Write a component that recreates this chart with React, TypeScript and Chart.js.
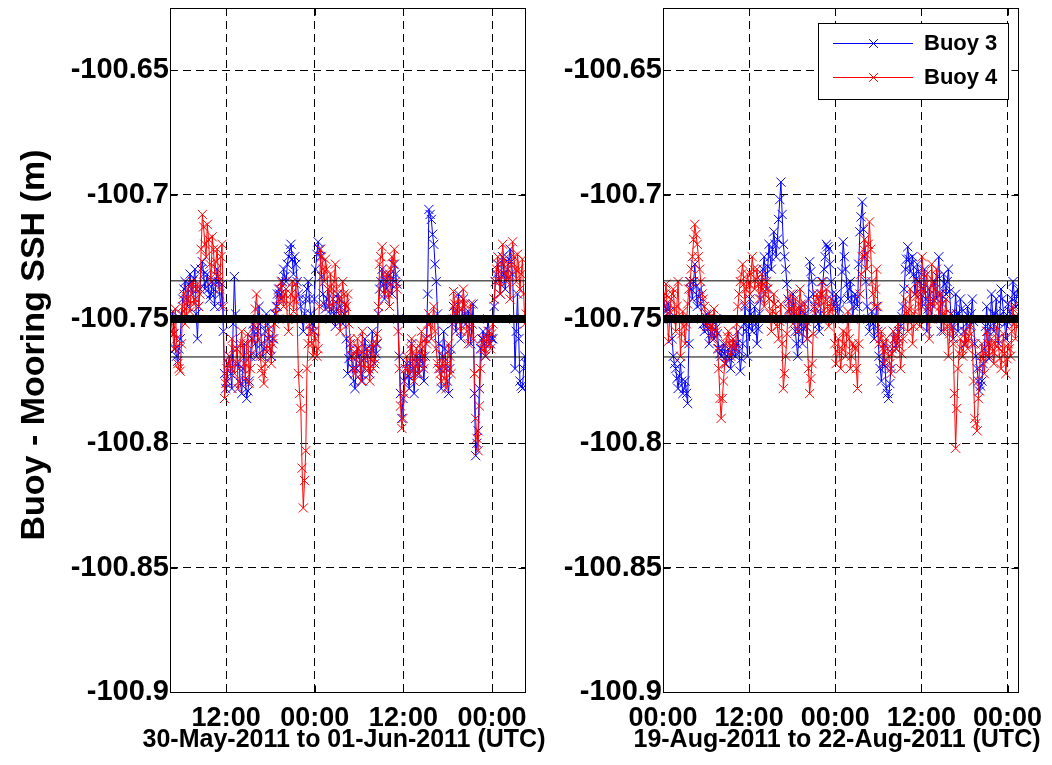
import React, { useEffect, useRef } from "react";
import { Chart, registerables } from "chart.js";

Chart.register(...registerables);

const FONT = "'Liberation Sans', Arial, Helvetica, sans-serif";

// ---------- axes / labels ----------
const SERIES_LABELS = ["Buoy 3", "Buoy 4"];
const SERIES_COLORS = ["#0000ff", "#ff0000"];
const Y_TITLE = "Buoy - Mooring SSH (m)";
const Y_MIN = -100.9;
const Y_MAX = -100.625;
const Y_TICKS = [-100.9, -100.85, -100.8, -100.75, -100.7, -100.65];
const Y_TICK_LABELS = ["-100.9", "-100.85", "-100.8", "-100.75", "-100.7", "-100.65"];
const MEAN_LEVEL = -100.75;
const STD_UPPER = -100.7347;
const STD_LOWER = -100.7653;
const SAMPLE_STEP_H = 1 / 3; // samples "A" every 20 min, samples "B" 10 min later (hours)

// Left panel: hours since 30-May-2011 00:00 UTC
const MAY_X_MIN = 4.4;
const MAY_X_MAX = 52.6;
const MAY_START = 4.45;
const MAY_TICKS = [12, 24, 36, 48];
const MAY_TICK_LABELS = ["12:00", "00:00", "12:00", "00:00"];
const MAY_TITLE = "30-May-2011 to 01-Jun-2011 (UTC)";

// Right panel: hours since 19-Aug-2011 00:00 UTC
const AUG_X_MIN = 0;
const AUG_X_MAX = 49.6;
const AUG_START = 0.1;
const AUG_TICKS = [0, 12, 24, 36, 48];
const AUG_TICK_LABELS = ["00:00", "12:00", "00:00", "12:00", "00:00"];
const AUG_TITLE = "19-Aug-2011 to 22-Aug-2011 (UTC)";

// ---------- data (m) ----------
const buoy4MayA = [
  -100.748, -100.756, -100.746, -100.768, -100.771,
  -100.745, -100.752, -100.738, -100.747, -100.735, -100.742, -100.736, -100.740,
  -100.708, -100.720, -100.712, -100.728, -100.717, -100.732, -100.722, -100.738, -100.720,
  -100.782, -100.770,
  -100.765, -100.758, -100.772, -100.762, -100.775, -100.755, -100.768, -100.760, -100.776, -100.764,
  -100.753, -100.740, -100.758, -100.770, -100.776, -100.762, -100.754, -100.768, -100.758, -100.748,
  -100.742, -100.735, -100.745, -100.738, -100.755, -100.740, -100.747, -100.736,
  -100.772, -100.786, -100.826, -100.803, -100.760,
  -100.755, -100.765, -100.758, -100.762,
  -100.722, -100.730, -100.726, -100.738,
  -100.732, -100.745, -100.728, -100.742, -100.755, -100.735, -100.748, -100.740, -100.758,
  -100.765, -100.772, -100.758, -100.768, -100.755, -100.770, -100.762, -100.775, -100.760, -100.766, -100.756,
  -100.728, -100.721, -100.740, -100.732, -100.745, -100.725, -100.722, -100.738,
  -100.770, -100.794, -100.780,
  -100.765, -100.772, -100.758, -100.775, -100.762, -100.768, -100.755, -100.770, -100.760,
  -100.748, -100.758, -100.745, -100.762,
  -100.770, -100.775, -100.765, -100.778, -100.760, -100.772,
  -100.739, -100.748, -100.742, -100.755, -100.738, -100.750, -100.760, -100.744, -100.758,
  -100.790, -100.803, -100.770,
  -100.758, -100.765, -100.755, -100.762, -100.752,
  -100.735, -100.725, -100.740, -100.720, -100.732, -100.728, -100.742, -100.719, -100.730, -100.724, -100.738, -100.726,
  -100.752, -100.746,
];
const buoy4MayB = [
  -100.752, -100.762, -100.758, -100.770, -100.760,
  -100.740, -100.748, -100.743, -100.736, -100.744, -100.738, -100.745, -100.722,
  -100.713, -100.725, -100.718, -100.735, -100.722, -100.727, -100.733, -100.725, -100.745,
  -100.776, -100.768,
  -100.770, -100.762, -100.768, -100.778, -100.760, -100.765, -100.774, -100.756, -100.770, -100.758,
  -100.746, -100.750, -100.765, -100.772, -100.768, -100.758, -100.762, -100.760, -100.752, -100.745,
  -100.738, -100.742, -100.740, -100.750, -100.744, -100.735, -100.742, -100.750,
  -100.780, -100.810, -100.815, -100.770, -100.752,
  -100.760, -100.755, -100.765, -100.745,
  -100.725, -100.735, -100.730, -100.745,
  -100.738, -100.735, -100.738, -100.750, -100.742, -100.740, -100.745, -100.752, -100.762,
  -100.770, -100.765, -100.762, -100.775, -100.765, -100.764, -100.770, -100.766, -100.770, -100.760, -100.745,
  -100.725, -100.732, -100.735, -100.740, -100.730, -100.728, -100.735, -100.755,
  -100.785, -100.790, -100.770,
  -100.770, -100.762, -100.768, -100.765, -100.772, -100.760, -100.765, -100.758, -100.752,
  -100.752, -100.750, -100.755, -100.768,
  -100.772, -100.768, -100.774, -100.768, -100.765, -100.750,
  -100.744, -100.745, -100.750, -100.746, -100.744, -100.755, -100.750, -100.752, -100.772,
  -100.798, -100.785, -100.762,
  -100.762, -100.758, -100.760, -100.756, -100.742,
  -100.730, -100.735, -100.728, -100.726, -100.735, -100.733, -100.728, -100.725, -100.735, -100.730, -100.732, -100.740,
  -100.748, -100.750,
];

const buoy3MayA = [
  -100.755, -100.747, -100.762, -100.767, -100.758,
  -100.742, -100.735, -100.745, -100.732, -100.740, -100.730, -100.758, -100.738,
  -100.727, -100.738, -100.732, -100.742, -100.735, -100.745, -100.730, -100.740, -100.736,
  -100.772, -100.775,
  -100.765, -100.778, -100.733, -100.762, -100.770, -100.780, -100.760, -100.782, -100.775, -100.758,
  -100.755, -100.765, -100.745, -100.760, -100.762, -100.748, -100.758, -100.765, -100.750, -100.745,
  -100.738, -100.742, -100.730, -100.735, -100.725, -100.720, -100.732, -100.728,
  -100.740, -100.745, -100.755, -100.742, -100.735,
  -100.748, -100.755, -100.730, -100.719,
  -100.725, -100.740, -100.746, -100.738,
  -100.750, -100.742, -100.753, -100.740, -100.745, -100.752, -100.744, -100.772, -100.760,
  -100.770, -100.778, -100.762, -100.768, -100.775, -100.758, -100.765, -100.772, -100.755, -100.768, -100.760,
  -100.738, -100.730, -100.742, -100.735, -100.732, -100.740, -100.728, -100.736,
  -100.765, -100.790, -100.775,
  -100.768, -100.778, -100.760, -100.780, -100.765, -100.772, -100.762, -100.775, -100.758,
  -100.706, -100.710, -100.720, -100.735,
  -100.760, -100.778, -100.755, -100.770, -100.780, -100.762,
  -100.745, -100.755, -100.740, -100.758, -100.742, -100.752, -100.747, -100.760, -100.744,
  -100.805, -100.795, -100.762,
  -100.755, -100.765, -100.750, -100.760, -100.758,
  -100.735, -100.728, -100.740, -100.725, -100.738, -100.730, -100.722, -100.732, -100.770, -100.740, -100.775, -100.778, -100.765, -100.772,
];
const buoy3MayB = [
  -100.750, -100.756, -100.765, -100.762, -100.748,
  -100.738, -100.742, -100.736, -100.738, -100.734, -100.748, -100.745, -100.730,
  -100.732, -100.735, -100.738, -100.740, -100.738, -100.735, -100.735, -100.745, -100.755,
  -100.778, -100.768,
  -100.772, -100.752, -100.748, -100.768, -100.776, -100.770, -100.775, -100.779, -100.765, -100.752,
  -100.760, -100.755, -100.752, -100.765, -100.755, -100.752, -100.762, -100.758, -100.748, -100.740,
  -100.740, -100.735, -100.733, -100.728, -100.722, -100.726, -100.725, -100.735,
  -100.742, -100.750, -100.748, -100.738, -100.742,
  -100.752, -100.742, -100.724, -100.722,
  -100.733, -100.744, -100.742, -100.745,
  -100.746, -100.748, -100.746, -100.742, -100.749, -100.748, -100.758, -100.766, -100.765,
  -100.775, -100.770, -100.765, -100.772, -100.766, -100.762, -100.770, -100.762, -100.762, -100.764, -100.748,
  -100.735, -100.736, -100.738, -100.733, -100.736, -100.734, -100.732, -100.750,
  -100.780, -100.782, -100.770,
  -100.773, -100.768, -100.770, -100.772, -100.768, -100.766, -100.768, -100.765, -100.740,
  -100.708, -100.716, -100.728, -100.748,
  -100.770, -100.765, -100.762, -100.775, -100.770, -100.752,
  -100.750, -100.748, -100.750, -100.750, -100.748, -100.750, -100.754, -100.752, -100.780,
  -100.800, -100.778, -100.758,
  -100.760, -100.757, -100.755, -100.758, -100.745,
  -100.732, -100.734, -100.732, -100.732, -100.734, -100.726, -100.727, -100.750, -100.755, -100.758, -100.777, -100.770, -100.768, -100.775,
];

const buoy4AugA = [
  -100.745, -100.736, -100.759, -100.742,
  -100.738, -100.755, -100.735, -100.765, -100.747, -100.760, -100.744,
  -100.735, -100.725, -100.712, -100.720, -100.730, -100.740,
  -100.745, -100.753, -100.748, -100.758, -100.746, -100.755, -100.770,
  -100.790, -100.775,
  -100.760, -100.755, -100.765, -100.758, -100.762, -100.745,
  -100.735, -100.728, -100.744, -100.732, -100.740,
  -100.725, -100.738, -100.730, -100.742, -100.732, -100.745, -100.735,
  -100.742, -100.755, -100.740, -100.748, -100.758, -100.744, -100.778,
  -100.765, -100.747, -100.740,
  -100.752, -100.742, -100.755, -100.738, -100.750, -100.744, -100.758,
  -100.780, -100.768, -100.746,
  -100.740, -100.745, -100.735, -100.748, -100.738, -100.753, -100.742, -100.750,
  -100.768, -100.758, -100.770,
  -100.755, -100.765, -100.747, -100.770, -100.760, -100.762, -100.778,
  -100.740, -100.725, -100.718, -100.730, -100.711,
  -100.735, -100.745, -100.730,
  -100.760, -100.755, -100.768, -100.758, -100.765, -100.772, -100.755, -100.762, -100.752, -100.770, -100.758,
  -100.742, -100.755, -100.738, -100.760, -100.747, -100.735, -100.753,
  -100.725, -100.740, -100.732, -100.758, -100.728, -100.745, -100.730, -100.750,
  -100.740, -100.755, -100.742, -100.765, -100.748, -100.760, -100.802,
  -100.770, -100.758, -100.765, -100.755, -100.762, -100.752, -100.760, -100.790, -100.795,
  -100.770, -100.760, -100.772, -100.755, -100.765, -100.758, -100.768, -100.753, -100.762, -100.770, -100.756, -100.772, -100.760, -100.765,
  -100.745, -100.758, -100.748,
];
const buoy4AugB = [
  -100.740, -100.748, -100.750, -100.740,
  -100.746, -100.745, -100.750, -100.756, -100.753, -100.752, -100.738,
  -100.730, -100.718, -100.716, -100.725, -100.735, -100.742,
  -100.749, -100.750, -100.753, -100.752, -100.750, -100.762, -100.782,
  -100.782, -100.768,
  -100.757, -100.760, -100.761, -100.760, -100.752, -100.740,
  -100.732, -100.736, -100.738, -100.736, -100.732,
  -100.730, -100.734, -100.736, -100.737, -100.738, -100.740, -100.738,
  -100.748, -100.747, -100.744, -100.753, -100.751, -100.760, -100.772,
  -100.756, -100.743, -100.746,
  -100.747, -100.748, -100.746, -100.744, -100.747, -100.751, -100.770,
  -100.774, -100.756, -100.743,
  -100.742, -100.740, -100.741, -100.743, -100.745, -100.747, -100.746, -100.760,
  -100.763, -100.764, -100.762,
  -100.760, -100.756, -100.758, -100.765, -100.761, -100.770, -100.760,
  -100.732, -100.722, -100.724, -100.720, -100.722,
  -100.740, -100.738, -100.745,
  -100.758, -100.762, -100.763, -100.762, -100.768, -100.764, -100.758, -100.757, -100.761, -100.764, -100.750,
  -100.748, -100.746, -100.749, -100.753, -100.741, -100.744, -100.738,
  -100.732, -100.736, -100.745, -100.743, -100.736, -100.738, -100.740, -100.745,
  -100.748, -100.748, -100.753, -100.756, -100.754, -100.780, -100.786,
  -100.764, -100.762, -100.760, -100.758, -100.757, -100.756, -100.775, -100.792, -100.782,
  -100.765, -100.766, -100.764, -100.760, -100.761, -100.763, -100.760, -100.758, -100.766, -100.763, -100.764, -100.766, -100.762, -100.755,
  -100.752, -100.753, -100.750,
];

const buoy3AugA = [
  -100.742, -100.747, -100.744, -100.750,
  -100.765, -100.770, -100.778, -100.768, -100.780, -100.775, -100.784,
  -100.735, -100.742, -100.728, -100.745, -100.738, -100.750,
  -100.755, -100.748, -100.760, -100.753, -100.758, -100.750, -100.762,
  -100.765, -100.760,
  -100.768, -100.762, -100.770, -100.758, -100.765, -100.755,
  -100.771, -100.760, -100.745, -100.765, -100.742,
  -100.755, -100.745, -100.760, -100.748, -100.735, -100.725, -100.738,
  -100.720, -100.730, -100.715, -100.725, -100.710, -100.695, -100.720,
  -100.730, -100.742, -100.750,
  -100.740, -100.755, -100.765, -100.745, -100.760, -100.748, -100.758,
  -100.727, -100.735, -100.745,
  -100.750, -100.755, -100.740, -100.730, -100.720, -100.722, -100.735, -100.745,
  -100.740, -100.750, -100.742,
  -100.719, -100.730, -100.742, -100.735, -100.750, -100.740, -100.745,
  -100.715, -100.703, -100.725, -100.745, -100.755,
  -100.747, -100.758, -100.745,
  -100.765, -100.775, -100.760, -100.778, -100.782, -100.770, -100.755, -100.762, -100.758, -100.753, -100.745,
  -100.730, -100.721, -100.731, -100.725, -100.740, -100.728, -100.735,
  -100.745, -100.730, -100.755, -100.738, -100.750, -100.735, -100.742, -100.725,
  -100.755, -100.732, -100.740, -100.730, -100.748, -100.758, -100.740,
  -100.755, -100.742, -100.750, -100.760, -100.745, -100.753, -100.742, -100.760, -100.770,
  -100.779, -100.775, -100.762, -100.745, -100.766, -100.740, -100.755, -100.742, -100.760, -100.738, -100.747, -100.758, -100.744, -100.750,
  -100.735, -100.745, -100.738,
];
const buoy3AugB = [
  -100.745, -100.746, -100.747, -100.758,
  -100.768, -100.774, -100.773, -100.775, -100.778, -100.780, -100.760,
  -100.738, -100.735, -100.737, -100.741, -100.744, -100.752,
  -100.752, -100.754, -100.756, -100.756, -100.754, -100.756, -100.764,
  -100.762, -100.764,
  -100.765, -100.766, -100.764, -100.762, -100.760, -100.763,
  -100.766, -100.752, -100.755, -100.753, -100.748,
  -100.750, -100.752, -100.754, -100.742, -100.730, -100.732, -100.729,
  -100.725, -100.722, -100.720, -100.718, -100.702, -100.708, -100.725,
  -100.736, -100.746, -100.745,
  -100.748, -100.760, -100.755, -100.752, -100.754, -100.753, -100.742,
  -100.731, -100.740, -100.748,
  -100.752, -100.748, -100.735, -100.725, -100.721, -100.728, -100.740, -100.743,
  -100.745, -100.746, -100.731,
  -100.725, -100.736, -100.738, -100.742, -100.745, -100.742, -100.728,
  -100.709, -100.714, -100.735, -100.750, -100.751,
  -100.752, -100.751, -100.755,
  -100.770, -100.768, -100.769, -100.780, -100.776, -100.762, -100.758, -100.760, -100.755, -100.749, -100.738,
  -100.726, -100.726, -100.728, -100.732, -100.734, -100.731, -100.740,
  -100.738, -100.742, -100.746, -100.744, -100.742, -100.738, -100.733, -100.740,
  -100.744, -100.736, -100.735, -100.739, -100.753, -100.749, -100.748,
  -100.748, -100.746, -100.755, -100.752, -100.749, -100.748, -100.751, -100.765, -100.775,
  -100.777, -100.768, -100.753, -100.755, -100.753, -100.748, -100.748, -100.751, -100.749, -100.742, -100.752, -100.751, -100.747, -100.742,
  -100.740, -100.741, -100.744,
];

// ---------- helpers ----------
// interleave the 20-min "A" readings with the "B" readings taken 10 min later
const toPoints = (a: number[], b: number[], start: number) => {
  const pts: { x: number; y: number }[] = [];
  a.forEach((v, i) => {
    const t = start + i * SAMPLE_STEP_H;
    pts.push({ x: t, y: v });
    if (i < b.length) pts.push({ x: t + SAMPLE_STEP_H / 2, y: b[i] });
  });
  return pts;
};

const TICK_LEN = 7;

const framePlugin = {
  id: "matlabFrame",
  afterDraw(chart: any) {
    const { ctx, chartArea: a, scales } = chart;
    ctx.save();
    ctx.setLineDash([]);
    ctx.strokeStyle = "#000";
    ctx.lineWidth = 1;
    const L = Math.round(a.left) + 0.5;
    const R = Math.round(a.right) - 0.5;
    const T = Math.round(a.top) + 0.5;
    const B = Math.round(a.bottom) + 0.5;
    ctx.strokeRect(L, T, R - L, B - T);
    ctx.beginPath();
    scales.x.ticks.forEach((t: any) => {
      const px = Math.round(scales.x.getPixelForValue(t.value)) + 0.5;
      ctx.moveTo(px, B);
      ctx.lineTo(px, B - TICK_LEN);
      ctx.moveTo(px, T);
      ctx.lineTo(px, T + TICK_LEN);
    });
    scales.y.ticks.forEach((t: any) => {
      const py = Math.round(scales.y.getPixelForValue(t.value)) + 0.5;
      ctx.moveTo(L, py);
      ctx.lineTo(L + TICK_LEN, py);
      ctx.moveTo(R, py);
      ctx.lineTo(R - TICK_LEN, py);
    });
    ctx.stroke();
    ctx.restore();
  },
};

// axis titles drawn without Chart.js' maxWidth squeezing
const makeTitlePlugin = (xTitle: string, showYTitle: boolean) => ({
  id: "axisTitles",
  afterDraw(chart: any) {
    const { ctx, chartArea: a } = chart;
    ctx.save();
    ctx.fillStyle = "#000";
    ctx.textAlign = "center";
    ctx.textBaseline = "alphabetic";
    ctx.font = `bold 25px ${FONT}`;
    ctx.fillText(xTitle, (a.left + a.right) / 2 - 4, a.bottom + 55);
    if (showYTitle) {
      ctx.translate(a.left - 126, (a.top + a.bottom) / 2 - 5);
      ctx.rotate(-Math.PI / 2);
      ctx.font = `bold 34px ${FONT}`;
      ctx.fillText(Y_TITLE, 0, 0);
    }
    ctx.restore();
  },
});

const legendPlugin = {
  id: "buoyLegend",
  afterDraw(chart: any) {
    const { ctx, chartArea: a } = chart;
    const W = 190;
    const H = 76;
    const L = Math.round(a.right) - 201;
    const T = Math.round(a.top) + 15;
    ctx.save();
    ctx.setLineDash([]);
    ctx.fillStyle = "#fff";
    ctx.fillRect(L, T, W, H);
    ctx.strokeStyle = "#000";
    ctx.lineWidth = 1;
    ctx.strokeRect(L + 0.5, T + 0.5, W, H);
    SERIES_LABELS.forEach((label, i) => {
      const y = T + 20 + i * 34 + 0.5;
      const color = SERIES_COLORS[i];
      ctx.strokeStyle = color;
      ctx.beginPath();
      ctx.moveTo(L + 15, y);
      ctx.lineTo(L + 95, y);
      const cx = L + 55.5;
      const d = 4.4;
      ctx.moveTo(cx - d, y - d);
      ctx.lineTo(cx + d, y + d);
      ctx.moveTo(cx - d, y + d);
      ctx.lineTo(cx + d, y - d);
      ctx.stroke();
      ctx.fillStyle = "#000";
      ctx.font = `bold 22px ${FONT}`;
      ctx.textAlign = "left";
      ctx.textBaseline = "middle";
      ctx.fillText(label, L + 106, y);
    });
    ctx.restore();
  },
};

type PanelSpec = {
  xMin: number;
  xMax: number;
  start: number;
  xTicks: number[];
  xTickLabels: string[];
  xTitle: string;
  buoy3: [number[], number[]];
  buoy4: [number[], number[]];
  yAxisWidth: number;
  rightPad: number;
  showYTitle: boolean;
  legend: boolean;
};

function makeConfig(p: PanelSpec): any {
  const flat = (level: number) => [
    { x: p.xMin, y: level },
    { x: p.xMax, y: level },
  ];
  const series = (values: [number[], number[]], idx: number, order: number) => ({
    label: SERIES_LABELS[idx],
    data: toPoints(values[0], values[1], p.start),
    borderColor: SERIES_COLORS[idx],
    backgroundColor: SERIES_COLORS[idx],
    borderWidth: 1,
    pointStyle: "crossRot",
    pointRadius: 6.5,
    pointBorderWidth: 1,
    pointBorderColor: SERIES_COLORS[idx],
    pointBackgroundColor: SERIES_COLORS[idx],
    tension: 0,
    order,
    clip: 0,
  });
  const refLine = (level: number, width: number, order: number) => ({
    label: "ref",
    data: flat(level),
    borderColor: "#000",
    borderWidth: width,
    pointRadius: 0,
    borderCapStyle: "butt",
    order,
    clip: 0,
  });
  const plugins: any[] = [framePlugin, makeTitlePlugin(p.xTitle, p.showYTitle)];
  if (p.legend) plugins.push(legendPlugin);
  return {
    type: "line",
    data: {
      datasets: [
        refLine(MEAN_LEVEL, 8, 0),
        refLine(STD_UPPER, 1, 1),
        refLine(STD_LOWER, 1, 1),
        series(p.buoy4, 1, 2),
        series(p.buoy3, 0, 3),
      ],
    },
    options: {
      responsive: false,
      animation: false,
      devicePixelRatio: 1,
      events: [],
      layout: { padding: { top: 8, right: p.rightPad, bottom: 0, left: 0 } },
      plugins: { legend: { display: false }, tooltip: { enabled: false } },
      scales: {
        x: {
          type: "linear",
          min: p.xMin,
          max: p.xMax,
          afterBuildTicks: (s: any) => {
            s.ticks = p.xTicks.map((v) => ({ value: v }));
          },
          afterFit: (s: any) => {
            s.height = 73;
            s.paddingLeft = 0;
            s.paddingRight = 0;
          },
          ticks: {
            autoSkip: false,
            maxRotation: 0,
            minRotation: 0,
            padding: 10,
            color: "#000",
            font: { family: FONT, size: 27, weight: "bold" },
            callback: (_v: any, i: number) => p.xTickLabels[i],
          },
          grid: { color: "#000", lineWidth: 1, drawTicks: false },
          border: { display: false, dash: [8, 5] },
          title: { display: false },
        },
        y: {
          type: "linear",
          position: "left",
          min: Y_MIN,
          max: Y_MAX,
          afterBuildTicks: (s: any) => {
            s.ticks = Y_TICKS.map((v) => ({ value: v }));
          },
          afterFit: (s: any) => {
            s.width = p.yAxisWidth;
            s.paddingTop = 0;
            s.paddingBottom = 0;
          },
          ticks: {
            autoSkip: false,
            padding: 1,
            color: "#000",
            font: { family: FONT, size: 29, weight: "bold" },
            callback: (_v: any, i: number) => Y_TICK_LABELS[i],
          },
          grid: { color: "#000", lineWidth: 1, drawTicks: false },
          border: { display: false, dash: [8, 5] },
          title: { display: false },
        },
      },
    },
    plugins,
  };
}

const LEFT_PANEL: PanelSpec = {
  xMin: MAY_X_MIN,
  xMax: MAY_X_MAX,
  start: MAY_START,
  xTicks: MAY_TICKS,
  xTickLabels: MAY_TICK_LABELS,
  xTitle: MAY_TITLE,
  buoy3: [buoy3MayA, buoy3MayB],
  buoy4: [buoy4MayA, buoy4MayB],
  yAxisWidth: 170,
  rightPad: 34,
  showYTitle: true,
  legend: false,
};

const RIGHT_PANEL: PanelSpec = {
  xMin: AUG_X_MIN,
  xMax: AUG_X_MAX,
  start: AUG_START,
  xTicks: AUG_TICKS,
  xTickLabels: AUG_TICK_LABELS,
  xTitle: AUG_TITLE,
  buoy3: [buoy3AugA, buoy3AugB],
  buoy4: [buoy4AugA, buoy4AugB],
  yAxisWidth: 118,
  rightPad: 33,
  showYTitle: false,
  legend: true,
};

function Panel({ spec, left, width }: { spec: PanelSpec; left: number; width: number }) {
  const ref = useRef<HTMLCanvasElement | null>(null);
  useEffect(() => {
    if (!ref.current) return;
    const chart = new Chart(ref.current, makeConfig(spec));
    return () => chart.destroy();
  }, [spec]);
  return (
    <canvas
      ref={ref}
      width={width}
      height={765}
      style={{ position: "absolute", left, top: 0, width, height: 765 }}
    />
  );
}

export default function App() {
  return (
    <div
      style={{
        position: "absolute",
        left: 0,
        top: 0,
        width: 1052,
        height: 765,
        background: "#fff",
        overflow: "hidden",
      }}
    >
      <Panel spec={LEFT_PANEL} left={0} width={560} />
      <Panel spec={RIGHT_PANEL} left={545} width={507} />
    </div>
  );
}
